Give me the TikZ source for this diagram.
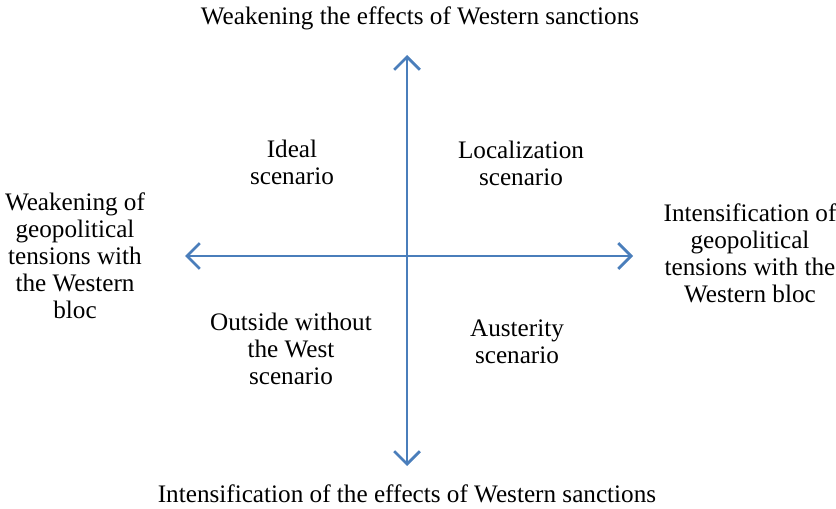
\documentclass[tikz,border=0pt]{standalone}
\usepackage{fontspec}
\setmainfont{Liberation Serif}
\usetikzlibrary{arrows.meta}
\definecolor{axisblue}{HTML}{4A7EBB}
\tikzset{
  axis/.style={draw=axisblue, line width=2.3pt, {Straight Barb[length=11pt,width=22pt,line width=2.3pt]}-{Straight Barb[length=11pt,width=22pt,line width=2.3pt]}},
  lbl/.style={align=center, font=\fontsize{21.5}{23}\selectfont, inner sep=0pt}
}
\begin{document}
\begin{tikzpicture}[x=0.03cm, y=-0.03cm]
\useasboundingbox (0,0) rectangle (836,509);
\coordinate (N) at (407,55);
\coordinate (S) at (407,466);
\coordinate (W) at (185,256);
\coordinate (E) at (633,256);
\draw[axis] (S) -- (N);
\draw[axis] (W) -- (E);
\node[lbl] (top) at (420,18) {Weakening the effects of Western sanctions};
\node[lbl] (bottom) at (407,494) {Intensification of the effects of Western sanctions};
\node[lbl] (left) at (75,256) {Weakening of\\geopolitical\\tensions with\\the Western\\bloc};
\node[lbl] (right) at (750,253) {Intensification of\\geopolitical\\tensions with the\\Western bloc};
\node[lbl] (ideal) at (292,162) {Ideal\\scenario};
\node[lbl] (local) at (521,163) {Localization\\scenario};
\node[lbl] (outside) at (291,349) {Outside without\\the West\\scenario};
\node[lbl] (auster) at (517,342) {Austerity\\scenario};
\end{tikzpicture}
\end{document}
